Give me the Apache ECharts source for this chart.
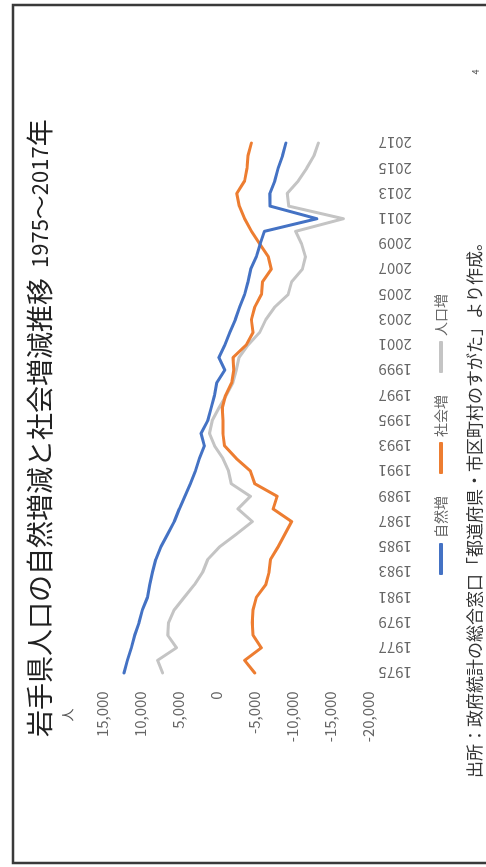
<!DOCTYPE html>
<html>
<head>
<meta charset="utf-8">
<script src="https://cdn.jsdelivr.net/npm/echarts@6/dist/echarts.min.js"></script>
<style>
html, body { margin: 0; padding: 0; background: #ffffff; width: 486px; height: 867px; overflow: hidden; }
#chart { position: absolute; left: 0; top: 0; width: 867px; height: 486px;
  transform-origin: 0 0; transform: translate(0, 867px) rotate(-90deg); }
</style>
</head>
<body>
<div id="chart"></div>
<script>
// ---- data ----
const years = ['1975','1976','1977','1978','1979','1980','1981','1982','1983','1984',
  '1985','1986','1987','1988','1989','1990','1991','1992','1993','1994',
  '1995','1996','1997','1998','1999','2000','2001','2002','2003','2004',
  '2005','2006','2007','2008','2009','2010','2011','2012','2013','2014',
  '2015','2016','2017'];

const seriesNames = ['自然増', '社会増', '人口増'];

const naturalChange = [12170, 11730, 11200, 10760, 10190, 9750, 9080, 8780, 8430, 7990,
  7320, 6440, 5560, 4900, 4150, 3440, 2780, 2250, 1590, 2030,
  1150, 710, 260, -40, -1100, -300, -1100, -1750, -2470, -3040,
  -3700, -4150, -4500, -5250, -5750, -6300, -13200, -7050, -7010, -7670,
  -8110, -8690, -9130];

const socialChange = [-5030, -3700, -5900, -4810, -4720, -4810, -5250, -6480, -6920, -7100,
  -8110, -9000, -9880, -7450, -7980, -5030, -4460, -2610, -1060, -840,
  -840, -750, -1190, -2000, -2280, -2160, -3920, -4810, -4590, -5030,
  -5910, -6040, -7200, -6800, -5700, -4600, -3700, -3000, -2660, -3700,
  -4000, -4150, -4590];

const totalChange = [7100, 7760, 5260, 6430, 6300, 5560, 4240, 2910, 1810, 1150,
  -400, -2610, -4720, -2820, -4460, -1940, -1590, -840, 260, 930,
  570, -310, -1280, -2160, -2600, -2960, -4150, -5690, -6480, -7670,
  -9430, -9880, -11300, -11700, -11200, -10400, -16700, -9500, -9300, -10760,
  -11860, -12830, -13400];

const valueTickMin = -20000;
const valueTickMax = 15000;
const valueTickStep = 5000;

const titleMain = '岩手県人口の自然増減と社会増減推移';
const titleYears = '1975';
const titleTilde = '～';
const titleYears2 = '2017';
const titleYearSuffix = '年';
const unitText = '人';
const sourceText = '出所：政府統計の総合窓口「都道府県・市区町村のすがた」より作成。';
const pageNumber = '4';

// ---- chart ----
const colors = ['#4472C4', '#ED7D31', '#C4C4C4'];
const font = "'Noto Sans CJK JP', 'Noto Sans', sans-serif";
const chart = echarts.init(document.getElementById('chart'), null, { renderer: 'canvas' });

function fmt(v) { return v.toString().replace(/\B(?=(\d{3})+(?!\d))/g, ','); }

const dataSets = [naturalChange, socialChange, totalChange];

chart.setOption({
  animation: false,
  backgroundColor: '#ffffff',
  textStyle: { fontFamily: font },
  color: colors,
  grid: { left: 187.7, right: 136.7, top: 102.5, bottom: 117.5, containLabel: false },
  legend: {
    data: seriesNames,
    left: 287, top: 429,
    icon: 'roundRect', itemWidth: 32, itemHeight: 4, itemGap: 22,
    textStyle: { fontSize: 14, color: '#666666', fontFamily: font }
  },
  xAxis: {
    type: 'category',
    data: years,
    boundaryGap: true,
    axisLine: { show: false, onZero: false },
    axisTick: { show: false },
    axisLabel: { interval: 1, rotate: 90, margin: 10, fontSize: 15, color: '#666666', fontFamily: font }
  },
  yAxis: {
    type: 'value',
    min: valueTickMin, max: valueTickMax, interval: valueTickStep,
    axisLine: { show: false },
    axisTick: { show: false },
    splitLine: { show: false },
    axisLabel: { margin: 12, fontSize: 15, color: '#666666', fontFamily: font, formatter: fmt }
  },
  series: seriesNames.map((name, i) => ({
    name: name,
    type: 'line',
    data: dataSets[i],
    symbol: 'none',
    lineStyle: { width: 3, color: colors[i], cap: 'round', join: 'round' },
    z: 3 - i
  })),
  graphic: [
    { type: 'rect', silent: true, shape: { x: 4, y: 13, width: 858, height: 540 },
      style: { fill: 'none', stroke: '#3a3a3a', lineWidth: 2.5 } },
    { type: 'text', silent: true, x: 130, y: 40,
      style: {
        text: '{a|' + titleMain + '}{g| }{b|' + titleYears + '}{t|' + titleTilde + '}{b|' + titleYears2 + '}{a|' + titleYearSuffix + '}',
        verticalAlign: 'middle', align: 'left',
        rich: {
          a: { fontSize: 27, fill: '#222222', fontFamily: font },
          g: { fontSize: 27, width: 10 },
          b: { fontSize: 22, fill: '#222222', fontFamily: font },
          t: { fontSize: 24, fill: '#222222', fontFamily: font }
        }
      } },
    { type: 'text', silent: true, x: 152, y: 67,
      style: { text: unitText, fontSize: 13, fill: '#555555', fontFamily: font, verticalAlign: 'middle', align: 'center' } },
    { type: 'text', silent: true, x: 89, y: 475,
      style: { text: sourceText, fontSize: 17, fill: '#333333', fontFamily: font, verticalAlign: 'middle', align: 'left' } },
    { type: 'text', silent: true, x: 795, y: 476,
      style: { text: pageNumber, fontSize: 9, fill: '#555555', fontFamily: font, verticalAlign: 'middle', align: 'center' } }
  ]
});
</script>
</body>
</html>
